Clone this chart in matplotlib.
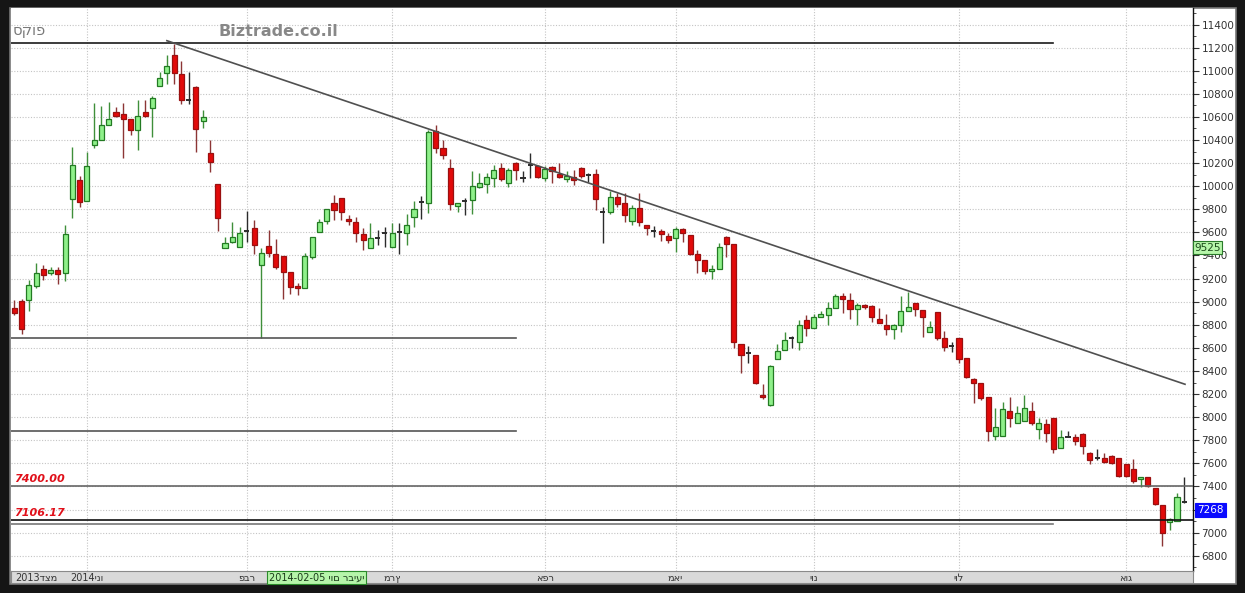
import matplotlib
matplotlib.use('Agg')
import matplotlib.pyplot as plt
from matplotlib.patches import Rectangle
from matplotlib.ticker import MultipleLocator, FuncFormatter
import numpy as np

# daily candles, Dec 2013 .. Aug 2014
opens = [8945, 9003, 9017, 9140, 9281, 9247, 9276, 9247, 9885, 10052,
         9874, 10353, 10396, 10526, 10641, 10626, 10583, 10488, 10641, 10678,
         10871, 10977, 11138, 10971, 10750, 10862, 10563, 10290, 10017, 9468,
         9514, 9471, 9600, 9636, 9315, 9485, 9413, 9398, 9255, 9139,
         9116, 9390, 9606, 9701, 9852, 9895, 9716, 9693, 9586, 9462,
         9560, 9585, 9476, 9590, 9592, 9731, 9860, 9852, 10478, 10328,
         10155, 9829, 9870, 9881, 9991, 10019, 10068, 10160, 10025, 10198,
         10075, 10175, 10175, 10068, 10169, 10106, 10060, 10077, 10155, 10097,
         10106, 9775, 9779, 9904, 9857, 9699, 9809, 9664, 9615, 9615,
         9569, 9549, 9627, 9578, 9413, 9361, 9268, 9280, 9563, 9497,
         8634, 8547, 8538, 8192, 8105, 8501, 8582, 8675, 8654, 8842,
         8770, 8865, 8885, 8943, 9049, 9015, 8934, 8971, 8963, 8848,
         8798, 8761, 8798, 8922, 8986, 8928, 8740, 8913, 8683, 8625,
         8683, 8510, 8328, 8293, 8172, 7837, 7837, 8056, 7952, 7964,
         8056, 7895, 7941, 7990, 7731, 7834, 7826, 7854, 7692, 7652,
         7644, 7667, 7644, 7592, 7549, 7462, 7480, 7384, 7239, 7095,
         7104, 7270]
highs = [9017, 9023, 9189, 9333, 9316, 9304, 9299, 9664, 10339, 10086,
         10296, 10718, 10698, 10732, 10684, 10718, 10583, 10747, 10747, 10784,
         10986, 11138, 11230, 11080, 10986, 10871, 10661, 10396, 10017, 9557,
         9692, 9649, 9785, 9708, 9462, 9621, 9543, 9398, 9255, 9165,
         9419, 9563, 9719, 9800, 9924, 9895, 9748, 9736, 9636, 9679,
         9621, 9650, 9679, 9684, 9760, 9875, 9915, 10487, 10530, 10400,
         10233, 9857, 9895, 10134, 10118, 10112, 10184, 10198, 10155, 10212,
         10134, 10290, 10184, 10172, 10175, 10198, 10134, 10140, 10169, 10112,
         10146, 9823, 9961, 9944, 9944, 9837, 9944, 9664, 9656, 9627,
         9598, 9644, 9636, 9578, 9448, 9361, 9318, 9506, 9569, 9497,
         8634, 8616, 8538, 8287, 8452, 8634, 8737, 8703, 8842, 8885,
         8894, 8923, 9000, 9067, 9078, 9078, 8986, 8980, 8971, 8943,
         8894, 8807, 9049, 9087, 8991, 8928, 8836, 8913, 8749, 8654,
         8683, 8510, 8337, 8293, 8172, 8077, 8134, 8172, 8097, 8192,
         8134, 7990, 7981, 7990, 7889, 7883, 7854, 7860, 7701, 7722,
         7687, 7672, 7644, 7592, 7635, 7480, 7485, 7384, 7239, 7124,
         7346, 7479]
lows = [8888, 8724, 8922, 9118, 9189, 9232, 9155, 9175, 9721, 9819,
        9874, 10333, 10396, 10526, 10598, 10247, 10445, 10316, 10598, 10425,
        10871, 10885, 10885, 10713, 10713, 10296, 10506, 10123, 9612, 9468,
        9506, 9471, 9517, 9410, 8683, 9385, 9283, 9023, 9067, 9058,
        9116, 9370, 9606, 9673, 9708, 9705, 9664, 9520, 9448, 9462,
        9491, 9476, 9476, 9413, 9491, 9650, 9713, 9771, 10285, 10233,
        9794, 9779, 9751, 9760, 9982, 9944, 9996, 10045, 9991, 10054,
        10039, 10068, 10068, 10045, 10025, 10068, 10039, 10011, 10071, 10039,
        9794, 9506, 9760, 9817, 9693, 9664, 9656, 9578, 9563, 9528,
        9506, 9433, 9520, 9405, 9251, 9240, 9194, 9280, 9385, 8597,
        8385, 8467, 8290, 8155, 8097, 8501, 8582, 8596, 8582, 8703,
        8770, 8865, 8798, 8943, 8905, 8848, 8798, 8934, 8827, 8818,
        8712, 8674, 8740, 8922, 8876, 8697, 8740, 8668, 8576, 8567,
        8467, 8337, 8120, 8149, 7796, 7802, 7837, 7918, 7952, 7964,
        7932, 7808, 7788, 7692, 7731, 7825, 7759, 7681, 7594, 7629,
        7600, 7594, 7485, 7485, 7427, 7393, 7398, 7239, 6885, 7023,
        7104, 7259]
closes = [8902, 8764, 9146, 9247, 9227, 9276, 9241, 9586, 10181, 9865,
          10172, 10396, 10534, 10583, 10612, 10583, 10488, 10612, 10612, 10764,
          10937, 11043, 10977, 10747, 10744, 10497, 10598, 10210, 9721, 9506,
          9563, 9592, 9610, 9491, 9419, 9419, 9298, 9255, 9130, 9121,
          9398, 9563, 9693, 9800, 9794, 9779, 9699, 9598, 9534, 9549,
          9552, 9595, 9592, 9600, 9664, 9800, 9866, 10472, 10328, 10270,
          9846, 9857, 9875, 10002, 10025, 10077, 10140, 10063, 10140, 10140,
          10070, 10180, 10077, 10146, 10134, 10077, 10088, 10054, 10088, 10094,
          9887, 9780, 9904, 9846, 9751, 9809, 9693, 9636, 9612, 9586,
          9534, 9627, 9598, 9413, 9361, 9268, 9280, 9471, 9500, 8654,
          8538, 8558, 8299, 8172, 8446, 8576, 8668, 8685, 8798, 8770,
          8870, 8894, 8943, 9049, 9021, 8934, 8971, 8957, 8865, 8818,
          8761, 8798, 8922, 8951, 8934, 8865, 8778, 8683, 8605, 8620,
          8501, 8350, 8293, 8163, 7883, 7912, 8068, 7990, 8039, 8077,
          7952, 7947, 7860, 7722, 7831, 7828, 7796, 7750, 7629, 7644,
          7614, 7600, 7491, 7491, 7450, 7480, 7404, 7248, 7000, 7115,
          7306, 7268]

# first trading day of each month (candle index) and labels
month_idx = [10, 32, 52, 73, 91, 110, 130, 153]
month_lbl = ['2014ינו', 'פבר', 'מרץ', 'אפר', 'מאי', 'יונ', 'יול', 'אוג']
first_lbl = '2013דצמ'
cursor_idx = 35
cursor_lbl = '2014-02-05 יום רביעי'

levels = [7400.00, 7106.17]
trend = ([21.0, 161.1], [11260, 8285])
last_price = 7268
ma_price = 9525

W, H = 1245, 593


def fx(px):
    return px / W


def fy(py):
    return 1 - py / H


fig = plt.figure(figsize=(W / 100, H / 100), dpi=100, facecolor='#151515')

# white panel behind chart + price scale
fig.add_artist(Rectangle((fx(10), fy(584)), fx(1236) - fx(10), fy(8) - fy(584),
                         transform=fig.transFigure, facecolor='white',
                         edgecolor='#777777', lw=1.2, zorder=-5))

ax = fig.add_axes([fx(11), fy(571), fx(1193) - fx(11), fy(8) - fy(571)])
ax.set_facecolor('white')

n = len(opens)
xs = np.arange(n)
o = np.array(opens, float)
h = np.array(highs, float)
l = np.array(lows, float)
c = np.array(closes, float)

up = c >= o
doji = np.abs(c - o) < 12

# grid
for v in range(6800, 11401, 200):
    ax.axhline(v, color='#c4c4c4', lw=0.8, ls=(0, (1, 1.5)), zorder=0)
for m in month_idx:
    ax.axvline(m, color='#c4c4c4', lw=0.8, ls=(0, (1, 1.5)), zorder=0)

# wicks
wick_col = np.where(up, '#3f8f3a', '#8c3535')
wick_col = np.where(doji, '#2b2b2b', wick_col)
ax.vlines(xs, l, h, colors=list(wick_col), lw=1.0, zorder=2)

# bodies
bw = 0.7
body_lo = np.minimum(o, c)
body_h = np.maximum(np.abs(c - o), 6)
nd = ~doji
ax.bar(xs[nd & up], body_h[nd & up], bottom=body_lo[nd & up], width=bw,
       color='#8ff08a', edgecolor='#237a23', lw=0.9, zorder=3)
ax.bar(xs[nd & ~up], body_h[nd & ~up], bottom=body_lo[nd & ~up], width=bw,
       color='#e20a0a', edgecolor='#9a1010', lw=0.9, zorder=3)
ax.hlines(c[doji], xs[doji] - bw / 2, xs[doji] + bw / 2, colors='#2b2b2b',
          lw=1.4, zorder=3)

# support / resistance lines
ax.plot([-1, 142.9], [11243, 11243], color='#1a1a1a', lw=1.2, zorder=4)
ax.plot([-1, 69], [8683, 8683], color='#555555', lw=1.2, zorder=4)
ax.plot([-1, 69], [7880, 7880], color='#555555', lw=1.2, zorder=4)
ax.plot([-1, 142.9], [7078, 7078], color='#777777', lw=1.2, zorder=4)
ax.axhline(levels[0], color='#666666', lw=1.2, zorder=4)
ax.axhline(levels[1], color='#111111', lw=1.2, zorder=4)
ax.plot(trend[0], trend[1], color='#505050', lw=1.2, zorder=4)

for lv in levels:
    ax.text(0.003, lv + 65, '%.2f' % lv, transform=ax.get_yaxis_transform(),
            color='#e0101a', fontsize=8, fontweight='bold', style='italic',
            va='center')

# watermark text (flipped by hand, matplotlib has no bidi)
fig.text(fx(13), fy(31), 'פוקס'[::-1], color='#7a7a7a', fontsize=10.5,
         va='center', ha='left')
fig.text(fx(218), fy(31), 'Biztrade.co.il', color='#888888', fontsize=11.5,
         fontweight='bold', va='center', ha='left')

ax.set_xlim(-0.45, 162.2)
ax.set_ylim(6668, 11543)

ax.yaxis.tick_right()
ax.yaxis.set_major_locator(MultipleLocator(200))
ax.yaxis.set_minor_locator(MultipleLocator(100))
# the 7200 label sits under the last-price marker
ax.yaxis.set_major_formatter(FuncFormatter(lambda v, p: '' if abs(v - 7200) < 1 else '%d' % v))
ax.tick_params(axis='y', which='major', labelsize=7.5, labelcolor='#333333',
               color='#333333', length=4, pad=2)
ax.tick_params(axis='y', which='minor', color='#333333', length=2.5)
ax.set_xticks([])
for s in ['top', 'left', 'bottom']:
    ax.spines[s].set_visible(False)
ax.spines['right'].set_color('#111111')
ax.spines['right'].set_linewidth(1.0)

# price markers on the scale
ax.text(1.0012, 9469, str(ma_price), transform=ax.get_yaxis_transform(),
        fontsize=7.5, color='#1a4a1a', va='center', ha='left', zorder=6,
        bbox=dict(boxstyle='square,pad=0.15', facecolor='#b6f5aa',
                  edgecolor='#2a7a2a', lw=0.8))
ax.text(1.0035, 7197, str(last_price), transform=ax.get_yaxis_transform(),
        fontsize=7.5, color='white', va='center', ha='left', zorder=6,
        bbox=dict(boxstyle='square,pad=0.2', facecolor='#0a0aff',
                  edgecolor='#0a0aff', lw=0.8))

# date strip
dx = fig.add_axes([fx(11), fy(583), fx(1193) - fx(11), fy(571) - fy(583)], sharex=ax)
dx.set_facecolor('#d9d9d9')
dx.set_yticks([])
dx.tick_params(axis='x', length=0, labelbottom=False)
for s in dx.spines.values():
    s.set_color('#8a8a8a')
    s.set_linewidth(0.8)
dx.set_ylim(0, 1)
dx.text(0.2, 0.45, first_lbl, fontsize=7, color='#333333', va='center', ha='left')
for m, lb in zip(month_idx, month_lbl):
    dx.text(m, 0.45, lb, fontsize=7, color='#333333', va='center', ha='center')
dx.text(cursor_idx, 0.45, cursor_lbl, fontsize=7, color='#1a3a1a',
        va='center', ha='left',
        bbox=dict(boxstyle='square,pad=0.18', facecolor='#b6f5aa',
                  edgecolor='#2a8a2a', lw=0.8))

fig.savefig('out.png', dpi=100, facecolor=fig.get_facecolor())
